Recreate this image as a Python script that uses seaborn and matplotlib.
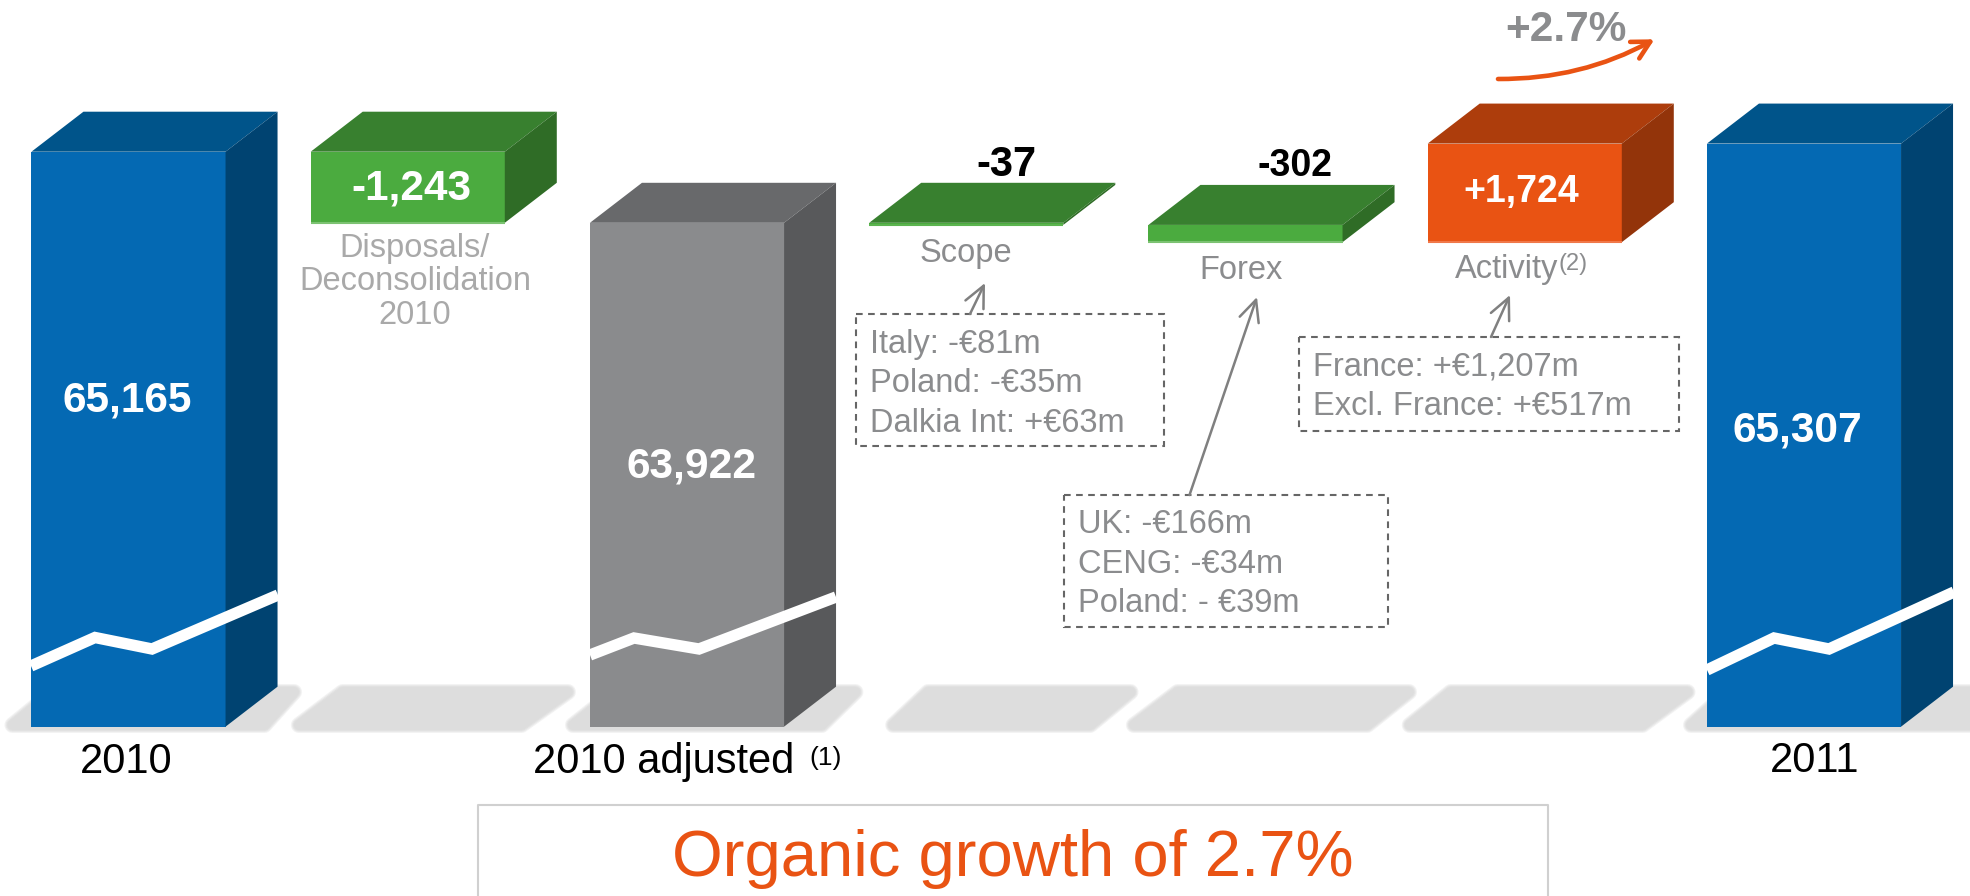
import math
import matplotlib
matplotlib.use("Agg")
import matplotlib.pyplot as plt
import seaborn as sns
from matplotlib.patches import Polygon, Rectangle
from matplotlib.transforms import Affine2D

# ---------- DATA ----------
categories = ["2010", "Disposals", "2010 adjusted", "Scope", "Forex", "Activity", "2011"]
floor_value = 55113
bar_tops = [65165, 65165, 63922, 63922, 63885, 65307, 65307]
bar_bottoms = [floor_value, 63922, floor_value, 63885, 63583, 63583, floor_value]
bar_labels = ["65,165", "-1,243", "63,922", "-37", "-302", "+1,724", "65,307"]
bar_heights = [t - b for t, b in zip(bar_tops, bar_bottoms)]

scope_lines = ["Italy: -€81m", "Poland: -€35m", "Dalkia Int: +€63m"]
forex_lines = ["UK: -€166m", "CENG: -€34m", "Poland: - €39m"]
activity_lines = ["France: +€1,207m", "Excl. France: +€517m"]
disposal_lines = ["Disposals/", "Deconsolidation", "2010"]

# ---------- COLOURS ----------
BLUE = ("#0469b3", "#00548a", "#004371")
GREEN = ("#4bab3f", "#38802f", "#2f6c26")
GRAY = ("#8a8b8d", "#68696b", "#58595b")
ORANGE = ("#e95313", "#ad3d0c", "#93340a")
bar_colors = [BLUE, GREEN, GRAY, GREEN, GREEN, ORANGE, BLUE]
edge_light = {1: "#7cc272", 3: "#5cb450", 4: "#7cc272", 5: "#f0784a"}
TEXT_GRAY = "#8b8c8e"
LABEL_GRAY = "#a9a9a9"

sns.set_theme(style="white")
plt.rcParams["font.family"] = ["Liberation Sans", "DejaVu Sans"]

W, H = 1970, 896
fig = plt.figure(figsize=(W / 100, H / 100), dpi=100)
ax = fig.add_axes([0, 0, 1, 1])

# ---------- BARS ----------
sns.barplot(x=categories, y=bar_heights, bottom=bar_bottoms, width=0.695,
            color=BLUE[0], linewidth=0, errorbar=None, saturation=1, ax=ax)

# axis limits, so that the value scale lands on the picture's pixels
unit_px = 0.0572
cat_px = 279.25
ax.set_xlim(-128.5 / cat_px, (W - 128.5) / cat_px)
ax.set_ylim(65165 - (H - 151.7) / unit_px, 65165 + 151.7 / unit_px)
ax.axis("off")

# pixel coordinates of the picture, y going down
pix = Affine2D().scale(1 / W, -1 / H).translate(0, 1) + fig.transFigure


def inset(corners, d):
    # shrink a parallelogram-like floor shadow, the wide round stroke grows it back
    (blx, bot), (tlx, top), (trx, _), (brx, _) = corners
    h = bot - top
    sl = (tlx - blx) / h
    sr = (trx - brx) / h
    kl = d * math.sqrt(1 + sl * sl)
    kr = d * math.sqrt(1 + sr * sr)
    return [(blx + sl * d + kl, bot - d), (tlx - sl * d + kl, top + d),
            (trx - sr * d - kr, top + d), (brx + sr * d - kr, bot - d)]


# soft floor shadows behind the bars
shadows = [
    [(-10, 733), (50, 684), (312, 684), (268, 733)],
    [(275, 733), (340, 684), (593, 684), (524, 733)],
    [(550, 733), (612, 684), (875, 684), (825, 733)],
    [(873, 733), (925, 684), (1153, 684), (1093, 733)],
    [(1110, 733), (1175, 684), (1432, 684), (1370, 733)],
    [(1387, 733), (1448, 684), (1712, 684), (1645, 733)],
    [(1670, 733), (1725, 684), (2010, 684), (1975, 733)],
]
for corners in shadows:
    core = inset(corners, 8)
    for lw, col in [(11.5, "#f3f3f3"), (10, "#e9e9e9"), (8.5, "#e1e1e1"), (7, "#dddddd")]:
        ax.add_patch(Polygon(core, closed=True, transform=pix, facecolor="#dddddd",
                             edgecolor=col, linewidth=lw, joinstyle="round", zorder=0.5))

# 3D top and side faces, built from the bars seaborn drew
depth_x = 52 / cat_px
depth_y = 40 / unit_px
for i, bar in enumerate(ax.patches[:len(categories)]):
    front, top_col, side_col = bar_colors[i]
    bar.set_facecolor(front)
    x0, x1 = bar.get_x(), bar.get_x() + bar.get_width()
    y0, y1 = bar.get_y(), bar.get_y() + bar.get_height()
    top = [(x0, y1), (x0 + depth_x, y1 + depth_y), (x1 + depth_x, y1 + depth_y), (x1, y1)]
    side = [(x1, y0), (x1 + depth_x, y0 + depth_y), (x1 + depth_x, y1 + depth_y), (x1, y1)]
    ax.add_patch(Polygon(top, closed=True, facecolor=top_col, linewidth=0, zorder=2))
    ax.add_patch(Polygon(side, closed=True, facecolor=side_col, linewidth=0, zorder=2))
    if i in edge_light:
        ax.plot([x0, x1], [y0, y0], color=edge_light[i], lw=1.5, zorder=3, solid_capstyle="butt")

# white axis-break lines on the tall bars
breaks = [
    [(31, 666), (95, 637.5), (152, 649), (278, 595)],
    [(590, 655), (634, 638), (699, 649), (836, 597)],
    [(1707, 670), (1774, 638), (1829, 649), (1954, 592)],
]
for pts in breaks:
    ax.plot([p[0] for p in pts], [p[1] for p in pts], transform=pix, color="white", lw=8.2,
            solid_joinstyle="miter", solid_capstyle="butt", zorder=4)


def put(x, y, s, size, color="black", weight="normal", ha="left"):
    ax.text(x, y, s, transform=pix, fontsize=size, color=color, fontweight=weight,
            ha=ha, va="baseline", zorder=6)


# ---------- VALUE LABELS ----------
label_spots = [(127.5, 411.5, 30.6, "white"), (411, 200, 30.4, "white"), (692, 478, 30.6, "white"),
               (1006, 175.7, 30, "black"), (1295, 175.7, 27, "black"),
               (1521, 202, 27, "white"), (1797, 441.5, 30.6, "white")]
for text, (x, y, size, col) in zip(bar_labels, label_spots):
    put(x, y, text, size, col, "bold", "center")

put(1566, 40.7, "+2.7%", 30.5, TEXT_GRAY, "bold", "center")

# ---------- CATEGORY LABELS ----------
put(126, 773, "2010", 30, ha="center")
put(533, 773, "2010 adjusted", 30)
put(809, 765, "(1)", 19)
put(1815, 772, "2011", 30, ha="center")

for y, line in zip([256.7, 290, 324], disposal_lines):
    put(415, y, line, 23.5, LABEL_GRAY, ha="center")
put(965.5, 262, "Scope", 23.5, TEXT_GRAY, ha="center")
put(1241, 279, "Forex", 23.5, TEXT_GRAY, ha="center")
put(1455, 278, "Activity", 23.5, TEXT_GRAY)
put(1559, 270, "(2)", 17, TEXT_GRAY)

# ---------- DASHED BOXES ----------
boxes = [(855.7, 314, 1164, 446), (1064, 495, 1388, 626.7), (1299, 337, 1679, 430.7)]
for x0, y0, x1, y1 in boxes:
    ax.add_patch(Rectangle((x0, y0), x1 - x0, y1 - y0, transform=pix, fill=False,
                           edgecolor="#666666", linewidth=1.5, linestyle=(0, (3.2, 2.6)), zorder=5))

for y, line in zip([352.7, 391.7, 431.7], scope_lines):
    put(870, y, line, 23.5, TEXT_GRAY)
for y, line in zip([533, 572.7, 611.7], forex_lines):
    put(1078, y, line, 23.5, TEXT_GRAY)
for y, line in zip([375, 415], activity_lines):
    put(1313, y, line, 23.5, TEXT_GRAY)

# ---------- ARROWS ----------
arrows = [((970, 314), (985, 283)), ((1189.5, 495), (1257, 297)), ((1491, 337), (1510, 295))]
for start, end in arrows:
    ax.annotate("", xy=end, xytext=start, xycoords=pix, textcoords=pix, zorder=5,
                arrowprops=dict(arrowstyle="->,head_length=0.85,head_width=0.4", color="#808080",
                                lw=1.8, shrinkA=0, shrinkB=0, mutation_scale=18))

ax.annotate("", xy=(1654.5, 39.3), xytext=(1498, 79), xycoords=pix, textcoords=pix, zorder=5,
            arrowprops=dict(arrowstyle="->,head_length=0.75,head_width=0.4", color=ORANGE[0],
                            lw=3.3, shrinkA=0, shrinkB=0, mutation_scale=17,
                            connectionstyle="arc3,rad=0.13"))

# ---------- BOTTOM PANEL ----------
ax.plot([477.6, 477.6, 1548, 1548], [H + 5, 805, 805, H + 5], transform=pix,
        color="#d0d0d0", lw=1.5, zorder=1)
put(1012.7, 876, "Organic growth of 2.7%", 47, ORANGE[0], ha="center")

fig.savefig("out.png", dpi=100)
